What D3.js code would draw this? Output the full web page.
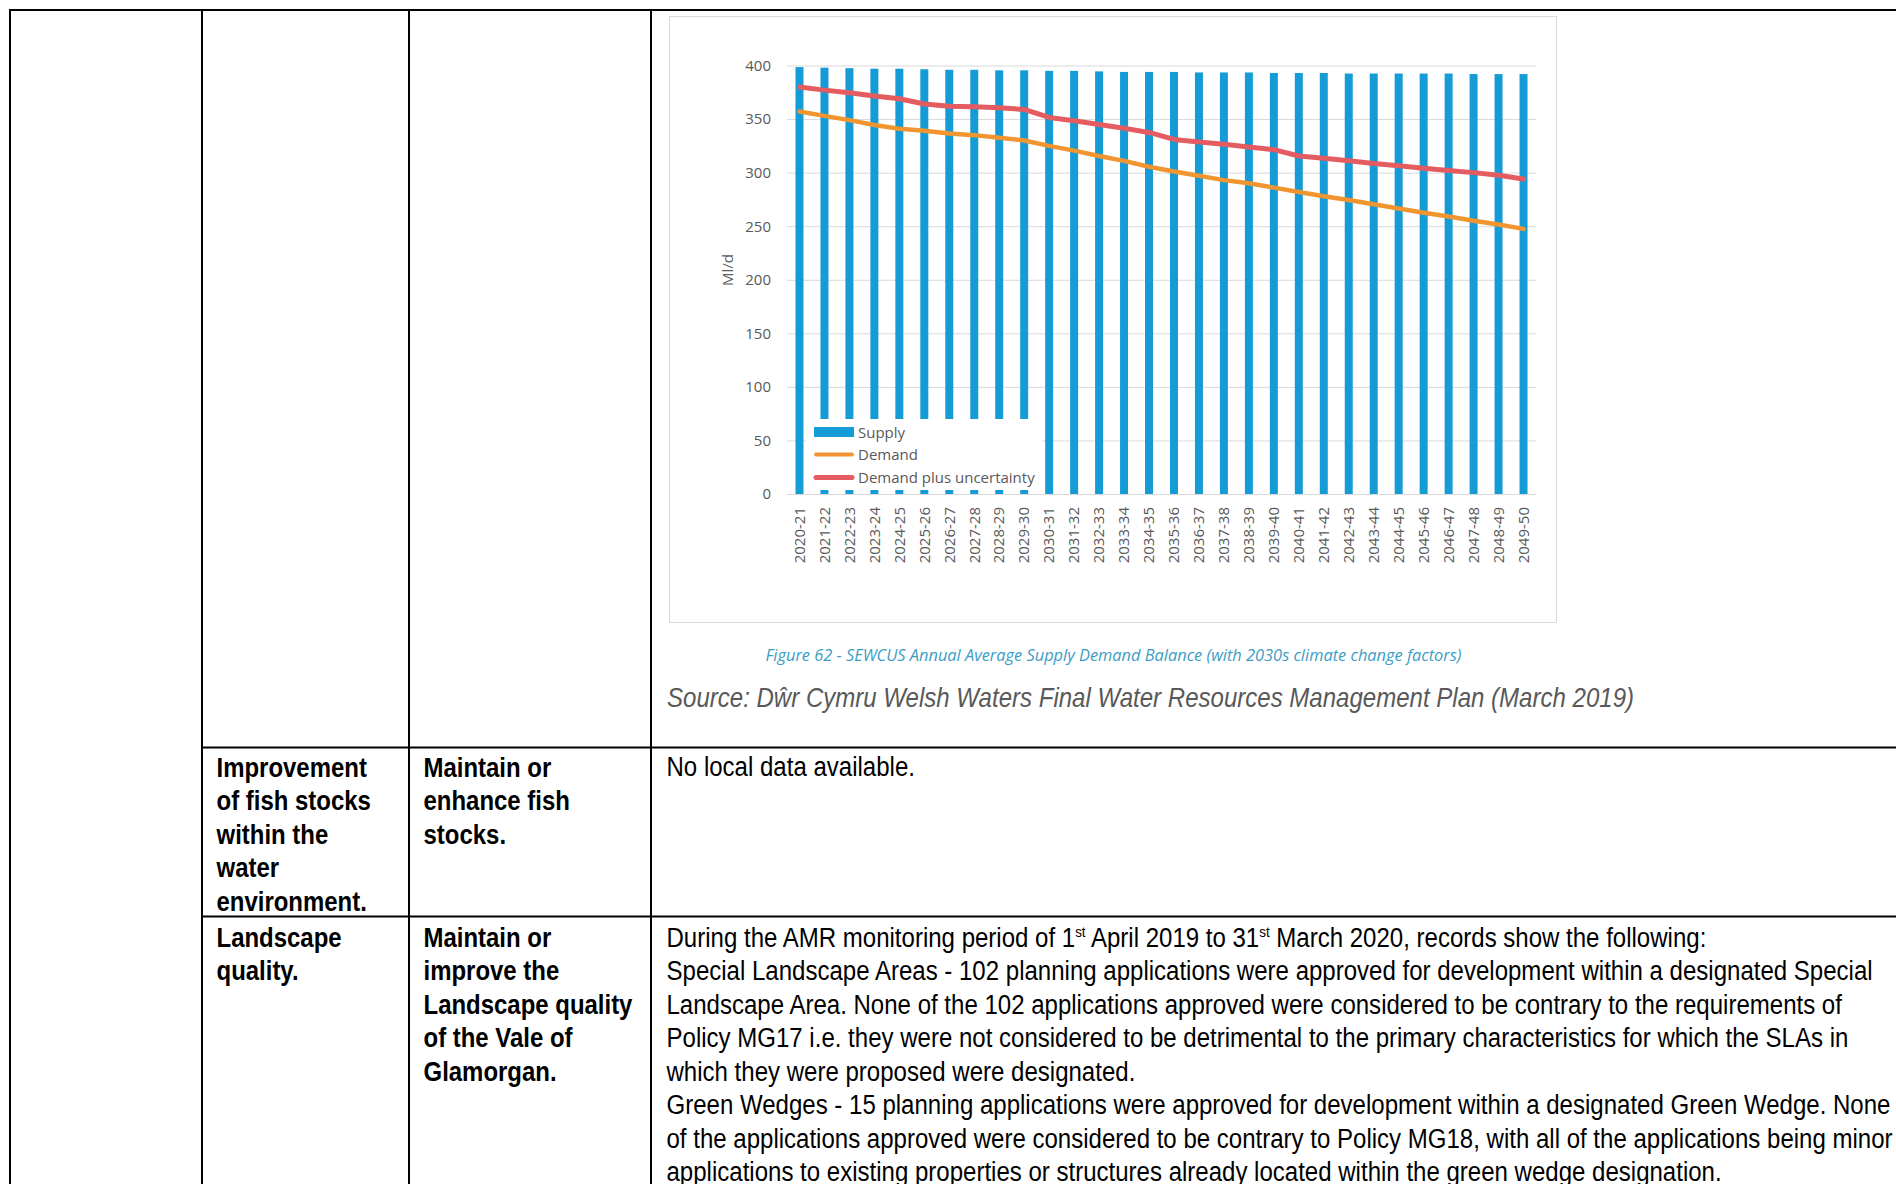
<!DOCTYPE html>
<html>
<head>
<meta charset="utf-8">
<script src="https://cdn.jsdelivr.net/npm/d3@7"></script>
<style>
  body { margin: 0; background: #fff; }
  svg { display: block; }
</style>
</head>
<body>
<div id="page"></div>
<script>
// chart data (Ml/d)
var years = ['2020-21','2021-22','2022-23','2023-24','2024-25','2025-26','2026-27','2027-28','2028-29','2029-30',
  '2030-31','2031-32','2032-33','2033-34','2034-35','2035-36','2036-37','2037-38','2038-39','2039-40',
  '2040-41','2041-42','2042-43','2043-44','2044-45','2045-46','2046-47','2047-48','2048-49','2049-50'];
var supply = [398.5, 398, 397.5, 397, 397, 396.5, 396, 396, 395.5, 395.5,
  395, 395, 394.5, 394, 394, 394, 393.5, 393.5, 393.5, 393,
  393, 393, 392.5, 392.5, 392.5, 392.5, 392.5, 392, 392, 392];
var demand = [357, 353, 349, 344.5, 341, 339, 336.5, 335, 332.5, 330,
  325, 320.5, 315.5, 311, 305.5, 301, 297, 293, 290, 286,
  282, 278, 274.5, 270.5, 266.5, 262.5, 259, 255, 251.5, 247.5];
var demandUncertainty = [380, 377, 374.5, 371.5, 369, 364, 362, 361.5, 360.5, 359,
  351.5, 348.5, 345, 341.5, 337.5, 331, 328.5, 326.5, 324, 321.5,
  315.5, 313.5, 311, 308.5, 306.5, 304, 302, 300, 297.5, 294];
var yTicks = [0, 50, 100, 150, 200, 250, 300, 350, 400];
var seriesNames = ['Supply', 'Demand', 'Demand plus uncertainty'];

var captionText = 'Figure 62 - SEWCUS Annual Average Supply Demand Balance (with 2030s climate change factors)';
var sourceText = 'Source: D\u0175r Cymru Welsh Waters Final Water Resources Management Plan (March 2019)';

// table text
var col2 = [['Improvement', 'of fish stocks', 'within the', 'water', 'environment.'],
  ['Landscape', 'quality.']];
var col3 = [['Maintain or', 'enhance fish', 'stocks.'],
  ['Maintain or', 'improve the', 'Landscape quality', 'of the Vale of', 'Glamorgan.']];
var col4a = ['No local data available.'];
var col4b = [
  [['During the AMR monitoring period of 1'], ['st', 1], [' April 2019 to 31'], ['st', 1], [' March 2020, records show the following:']],
  [['Special Landscape Areas - 102 planning applications were approved for development within a designated Special']],
  [['Landscape Area. None of the 102 applications approved were considered to be contrary to the requirements of']],
  [['Policy MG17 i.e. they were not considered to be detrimental to the primary characteristics for which the SLAs in']],
  [['which they were proposed were designated.']],
  [['Green Wedges - 15 planning applications were approved for development within a designated Green Wedge. None']],
  [['of the applications approved were considered to be contrary to Policy MG18, with all of the applications being minor']],
  [['applications to existing properties or structures already located within the green wedge designation.']]
];

var svg = d3.select('#page').append('svg').attr('width', 1896).attr('height', 1184);
svg.append('rect').attr('width', 1896).attr('height', 1184).attr('fill', '#fff');

// ---------- table rules ----------
var rules = svg.append('g').attr('stroke', '#000').attr('stroke-width', 2);
[10, 202, 409, 651].forEach(function(xx) {
  rules.append('line').attr('x1', xx).attr('x2', xx).attr('y1', 9).attr('y2', 1184);
});
rules.append('line').attr('x1', 9).attr('x2', 1896).attr('y1', 10).attr('y2', 10);
[747.5, 916.5].forEach(function(yy) {
  rules.append('line').attr('x1', 202).attr('x2', 1896).attr('y1', yy).attr('y2', yy);
});

// ---------- chart frame ----------
svg.append('rect')
  .attr('x', 669.5).attr('y', 16.5).attr('width', 887).attr('height', 606)
  .attr('fill', '#fff').attr('stroke', '#d9d9d9');

var plot = { left: 787, right: 1536, top: 65.5, bottom: 494 };

var x = d3.scaleBand().domain(years).range([plot.left, plot.right]).paddingInner(0.68).paddingOuter(0.34);
var y = d3.scaleLinear().domain([0, 400]).range([plot.bottom, plot.top]);

var yAxis = d3.axisLeft(y).tickValues(yTicks).tickSize(-(plot.right - plot.left)).tickPadding(16);
var gy = svg.append('g')
  .attr('transform', 'translate(' + plot.left + ',0)')
  .call(yAxis)
  .attr('font-family', '"Open Sans", sans-serif')
  .attr('font-size', 15);
gy.select('.domain').remove();
gy.selectAll('line').attr('stroke', '#d9d9d9');
gy.selectAll('text').attr('fill', '#595959');

var xAxis = d3.axisBottom(x).tickSize(0);
var gx = svg.append('g')
  .attr('transform', 'translate(0,' + plot.bottom + ')')
  .call(xAxis)
  .attr('font-family', '"Open Sans", sans-serif')
  .attr('font-size', 15);
gx.select('.domain').remove();
gx.selectAll('text')
  .attr('fill', '#595959')
  .attr('text-anchor', 'end')
  .attr('transform', 'rotate(-90)')
  .attr('x', -13)
  .attr('y', 0)
  .attr('dy', '0.35em');

svg.append('text')
  .attr('transform', 'translate(733,270) rotate(-90)')
  .attr('text-anchor', 'middle')
  .attr('font-family', '"Open Sans", sans-serif')
  .attr('font-size', 15)
  .attr('fill', '#595959')
  .text('Ml/d');

var barColor = '#159bd6', demandColor = '#f0952f', uncColor = '#e45c5f';

svg.append('g').selectAll('rect')
  .data(supply)
  .enter().append('rect')
  .attr('x', function(d, i) { return x(years[i]); })
  .attr('y', function(d) { return y(d); })
  .attr('width', x.bandwidth())
  .attr('height', function(d) { return y(0) - y(d); })
  .attr('fill', barColor);

var line = d3.line()
  .x(function(d, i) { return x(years[i]) + x.bandwidth() / 2; })
  .y(function(d) { return y(d); });

svg.append('path').datum(demand)
  .attr('fill', 'none').attr('stroke', demandColor).attr('stroke-width', 4.5)
  .attr('stroke-linejoin', 'round').attr('stroke-linecap', 'round')
  .attr('d', line);
svg.append('path').datum(demandUncertainty)
  .attr('fill', 'none').attr('stroke', uncColor).attr('stroke-width', 5)
  .attr('stroke-linejoin', 'round').attr('stroke-linecap', 'round')
  .attr('d', line);

// legend (sits over the lower part of the bars)
var legend = svg.append('g');
legend.append('rect').attr('x', 806).attr('y', 419).attr('width', 236).attr('height', 71).attr('fill', '#fff');
legend.append('rect').attr('x', 814).attr('y', 427).attr('width', 40).attr('height', 10).attr('fill', barColor);
legend.append('line').attr('x1', 816).attr('x2', 852).attr('y1', 454.5).attr('y2', 454.5)
  .attr('stroke', demandColor).attr('stroke-width', 4).attr('stroke-linecap', 'round');
legend.append('line').attr('x1', 816).attr('x2', 852).attr('y1', 477.5).attr('y2', 477.5)
  .attr('stroke', uncColor).attr('stroke-width', 5).attr('stroke-linecap', 'round');
legend.selectAll('text.lg')
  .data(seriesNames)
  .enter().append('text')
  .attr('class', 'lg')
  .attr('x', 858)
  .attr('y', function(d, i) { return [437.5, 459.5, 483][i]; })
  .attr('font-family', '"Open Sans", sans-serif')
  .attr('font-size', 15)
  .attr('fill', '#595959')
  .text(function(d) { return d; });

// caption + source
svg.append('text')
  .attr('x', 765.5).attr('y', 660.5)
  .attr('font-family', '"Open Sans", sans-serif')
  .attr('font-style', 'italic')
  .attr('font-size', 15.5)
  .attr('fill', '#3c9dc4')
  .attr('textLength', 696)
  .attr('lengthAdjust', 'spacingAndGlyphs')
  .text(captionText);

svg.append('text')
  .attr('x', 667).attr('y', 707)
  .attr('font-family', '"Liberation Sans", Arial, sans-serif')
  .attr('font-style', 'italic')
  .attr('font-size', 28.5)
  .attr('fill', '#595959')
  .attr('textLength', 967)
  .attr('lengthAdjust', 'spacingAndGlyphs')
  .text(sourceText);

// ---------- table text ----------
var tfont = '"Liberation Sans", Arial, sans-serif';
var pitch = 33.55;
var boldTexts = [], plainTexts = [];

function addLines(lines, x0, y0, bold) {
  var made = [];
  lines.forEach(function(ln, k) {
    var t = svg.append('text')
      .attr('font-family', tfont)
      .attr('font-size', 27)
      .attr('font-weight', bold ? 'bold' : 'normal')
      .attr('fill', '#000')
      .datum({ x: x0, y: y0 + k * pitch });
    if (typeof ln === 'string') {
      t.text(ln);
    } else {
      ln.forEach(function(seg) {
        var sp = t.append('tspan').text(seg[0]);
        if (seg[1]) sp.attr('font-size', 15).attr('dy', -10);
        else if (t.selectAll('tspan').size() > 1) sp.attr('dy', 10);
      });
    }
    (bold ? boldTexts : plainTexts).push(t);
    made.push(t);
  });
  return made;
}

addLines(col2[0], 216.5, 776.5, true);
addLines(col2[1], 216.5, 946.5, true);
addLines(col3[0], 423.5, 776.5, true);
var col3b = addLines(col3[1], 423.5, 946.5, true);
addLines(col4a, 666.5, 776, false);
var col4bText = addLines(col4b, 666.5, 946.5, false);

// fit the narrow document face: horizontal squeeze measured from one known line each
var boldRef = col3b[2].node().getComputedTextLength();     // "Landscape quality"
var plainRef = col4bText[1].node().getComputedTextLength(); // "Special Landscape Areas ..."
var sBold = 209 / boldRef, sPlain = 1207 / plainRef;
boldTexts.forEach(function(t) {
  t.attr('transform', function(d) { return 'translate(' + d.x + ',' + d.y + ') scale(' + sBold + ',1)'; });
});
plainTexts.forEach(function(t) {
  t.attr('transform', function(d) { return 'translate(' + d.x + ',' + d.y + ') scale(' + sPlain + ',1)'; });
});
</script>
</body>
</html>
